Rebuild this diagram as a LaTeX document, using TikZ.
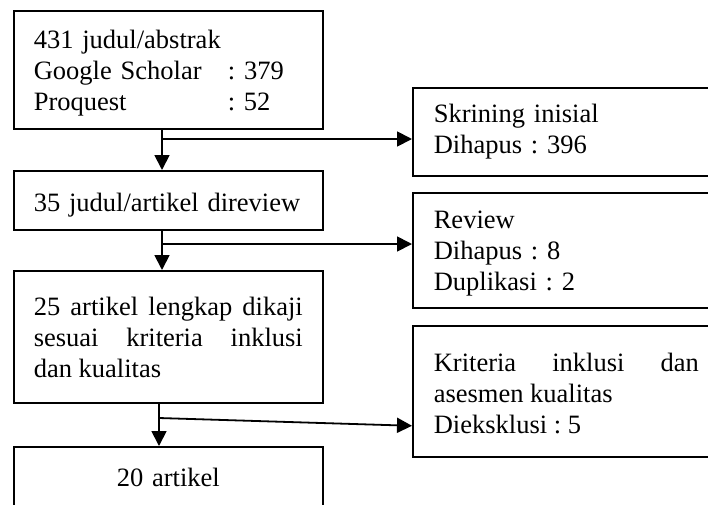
\documentclass[tikz,border=0pt]{standalone}
\usepackage{fontspec}
\setmainfont{Liberation Serif}
\usetikzlibrary{arrows.meta}
\frenchspacing

\begin{document}
\begin{tikzpicture}[x=1pt,y=-1pt,
  kotak/.style={draw,line width=1.6pt,inner ysep=0pt,anchor=north west,
    font=\fontsize{26.5}{31}\selectfont},
  kiri/.style={kotak,text width=269pt,inner xsep=20pt},
  kanan/.style={kotak,text width=265pt,inner xsep=21pt},
  panah/.style={line width=1.8pt,-{Triangle[length=15pt,width=15pt]}}]
\clip (0,0) rectangle (708,504);
% alur utama
\node[kiri,text height=38pt,text depth=80pt] (b1) at (13,10)
  {431 judul/abstrak\\ \makebox[194pt][l]{Google Scholar}: 379\\ \makebox[194pt][l]{Proquest}: 52};
\node[kiri,text height=41pt,text depth=18pt] (b2) at (13,170) {35 judul/artikel direview};
\node[kiri,align=justify,text height=45pt,text depth=87pt] (b3) at (13,270)
  {25 artikel lengkap dikaji\linebreak sesuai kriteria inklusi\linebreak dan kualitas};
\node[kiri,align=center,text height=40pt,text depth=20pt] (b4) at (13,446) {20 artikel};
% yang dikeluarkan
\node[kanan,text height=35pt,text depth=53pt] (r1) at (412,87) {Skrining inisial\\ Dihapus : 396};
\node[kanan,text height=36pt,text depth=79pt] (r2) at (412,192) {Review\\ Dihapus : 8\\ Duplikasi : 2};
\node[kanan,align=justify,text height=46pt,text depth=85pt] (r3) at (412,325)
  {Kriteria inklusi dan\linebreak asesmen kualitas\newline Dieksklusi : 5};
\coordinate (s1) at (162,139);
\coordinate (s2) at (162,244);
\coordinate (s3) at (159,418);
\draw[panah] (s1 |- b1.south) -- (s1 |- b2.north);
\draw[panah] (s1) -- (s1 -| r1.west);
\draw[panah] (s2 |- b2.south) -- (s2 |- b3.north);
\draw[panah] (s2) -- (s2 -| r2.west);
\draw[panah] (s3 |- b3.south) -- (s3 |- b4.north);
\draw[panah] (s3) -- ([yshift=-34.5pt]r3.west);
\end{tikzpicture}
\end{document}
